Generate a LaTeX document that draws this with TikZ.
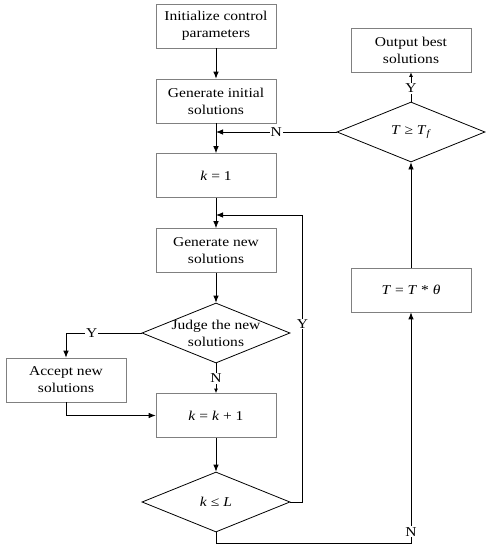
\documentclass[tikz,border=0pt]{standalone}
\usepackage{fontspec}
\setmainfont[FakeStretch=1.15]{Liberation Serif}
\usepackage{tikz}
\usetikzlibrary{arrows.meta,shapes.geometric,calc}

\newcommand{\vr}[1]{\textit{#1}}

\tikzset{
  stepbox/.style={draw={rgb,255:red,128;green,128;blue,128}, line width=0.7pt, minimum width=120, minimum height=44, align=center, inner sep=1pt},
  decision/.style={draw=black, line width=0.8pt, diamond, aspect=2.47, minimum width=148, minimum height=60, inner sep=0pt, align=center},
  arr/.style={line width=0.8pt, -{Latex[length=7pt,width=5.5pt]}},
  smallarr/.style={line width=0.8pt, -{Latex[length=4.5pt,width=4pt]}},
  lbl/.style={fill=white, inner sep=1pt}
}

\begin{document}
\begin{tikzpicture}[x=1pt,y=1pt,yscale=-1,xscale=1,font=\fontsize{13.5}{17}\selectfont]
\useasboundingbox (0,0) rectangle (493,550);

% Boxes, left column
\node[stepbox] (init) at (216,26) {Initialize control\\parameters};
\node[stepbox] (geninit) at (216,101) {Generate initial\\solutions};
\node[stepbox] (kone) at (216,175.5) {\vr{k} = 1};
\node[stepbox] (gennew) at (216,250.5) {Generate new\\solutions};
\node[decision, label={[align=center]center:Judge the new\\solutions}] (judge) at (216,333) {};
\node[stepbox] (accept) at (66,380) {Accept new\\solutions};
\node[stepbox] (kplus) at (216,415.5) {\vr{k} = \vr{k} + 1};
\node[decision] (kleq) at (216,502) {\vr{k} ≤ \vr{L}};

% Boxes, right column
\node[stepbox] (output) at (411,50) {Output best\\solutions};
\node[decision] (tempcheck) at (411,132) {\vr{T} ≥ \vr{T}\raisebox{-0.35ex}{\fontsize{9.5}{9.5}\selectfont\vr{f}}};
\node[stepbox] (tupdate) at (411,290) {\vr{T} = \vr{T} * \vr{θ}};

% Coordinates where connectors join a line
\coordinate (join1) at (216,132);
\coordinate (join2) at (216,215);

% Connectors
\draw[arr] (init) -- (geninit);
\draw[arr] (geninit) -- (kone);
\draw[arr] (tempcheck.west) -- node[lbl]{N} (join1);
\draw[arr] (kone) -- (gennew);
\draw[arr] (gennew) -- (judge);
\draw[arr] (judge.west) -| node[lbl,pos=0.33]{Y} (accept.north);
\draw[smallarr] (judge.south) -- node[lbl]{N} (kplus.north);
\draw[arr] (accept.south) |- (kplus.west);
\draw[arr] (kplus) -- (kleq);
\draw[arr] (kleq.east) -- ++(12,0) |- node[lbl,pos=0.31]{Y} (join2);
\draw[arr] (kleq.south) -- ++(0,11) -| node[lbl,pos=0.525]{N} (tupdate.south);
\draw[arr] (tupdate) -- (tempcheck);
\draw[smallarr] (tempcheck.north) -- node[lbl,pos=0.45]{Y} (output.south);

\end{tikzpicture}
\end{document}
